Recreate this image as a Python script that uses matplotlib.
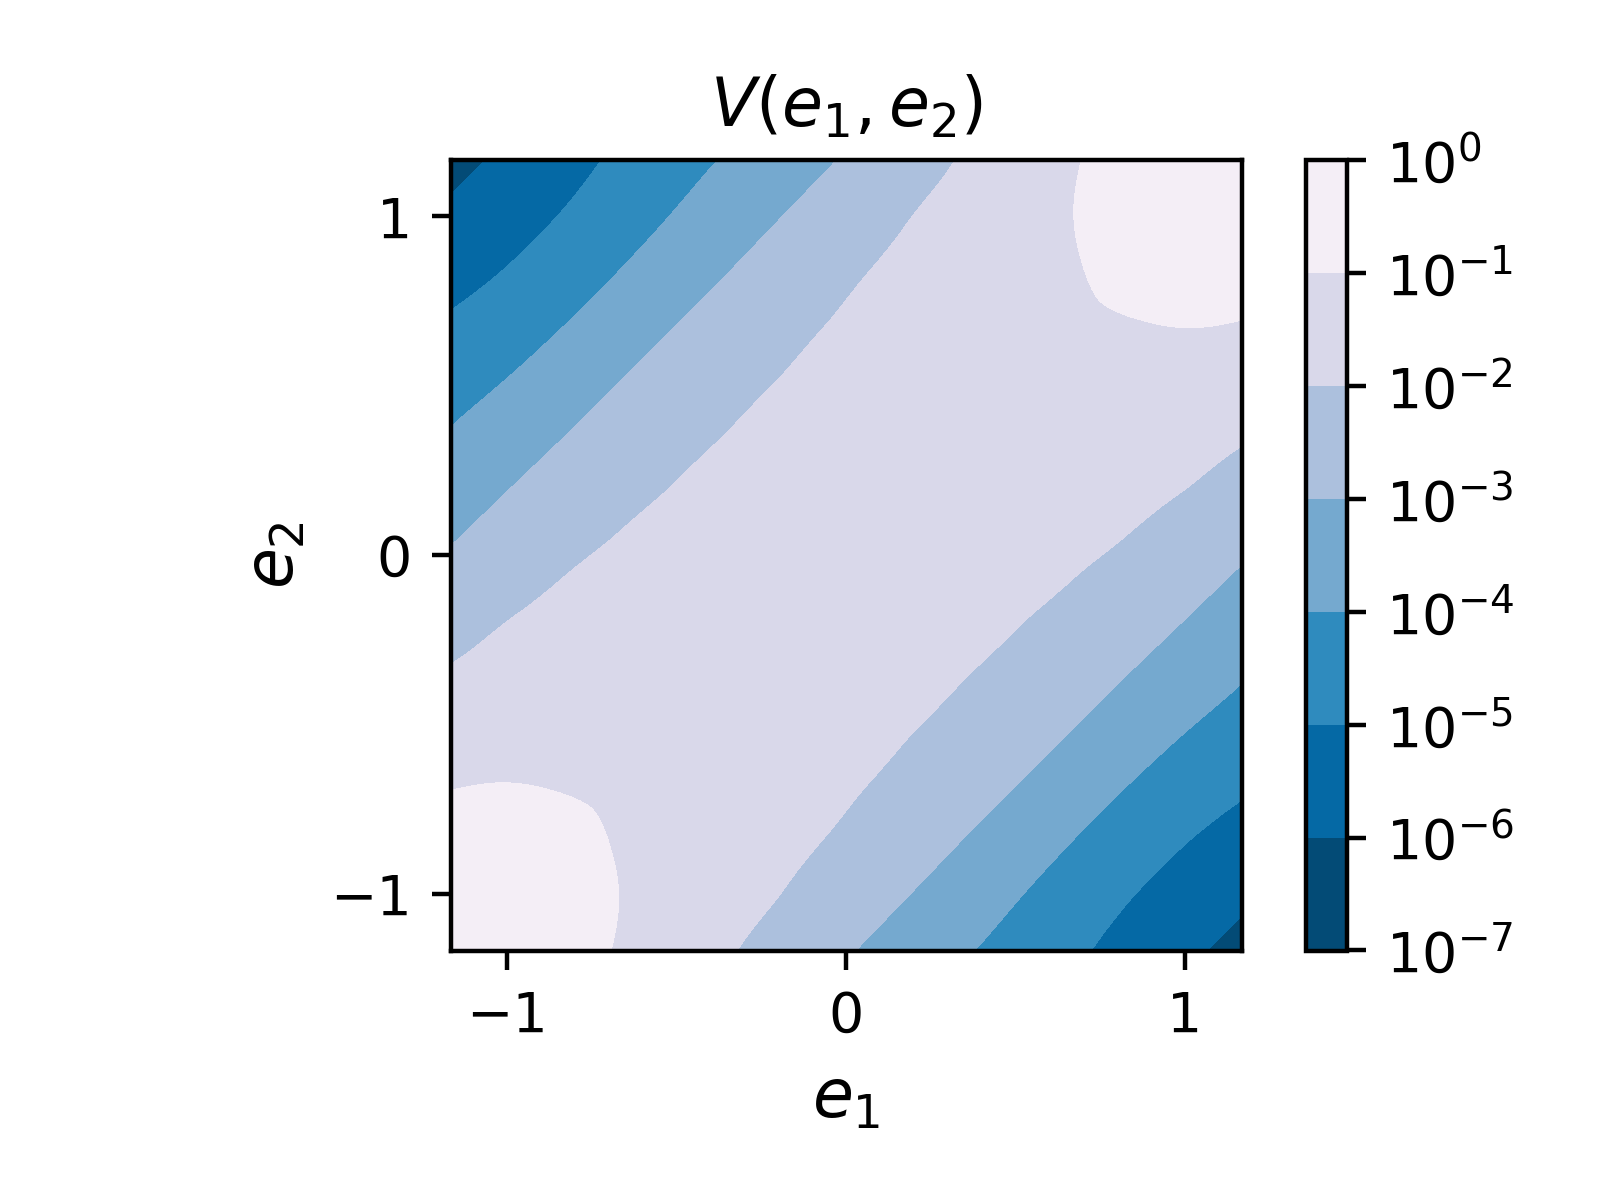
import numpy as np
import matplotlib
matplotlib.use('Agg')
import matplotlib.pyplot as plt
import matplotlib.tri as mtri
from matplotlib import ticker

# grid of e1 / e2 values (same for both axes)
e_vals = [-7/6, -1, -5/6, -2/3, -1/2, -1/3, -1/6, 0, 1/6, 1/3, 1/2, 2/3, 5/6, 1, 7/6]

# log10 V, rows = e2 (bottom -> top), columns = e1 (left -> right)
log10_v = [
    [-0.23, -0.47, -0.76, -1.06, -1.52, -1.97, -2.41, -2.92, -3.38, -3.87, -4.33, -4.82, -5.35, -5.82, -6.28],
    [-0.47, -0.58, -0.78, -1.01, -1.42, -1.75, -2.06, -2.48, -2.94, -3.41, -3.93, -4.43, -4.94, -5.40, -5.82],
    [-0.76, -0.78, -0.87, -1.05, -1.30, -1.58, -1.85, -2.11, -2.51, -2.96, -3.44, -3.97, -4.47, -4.94, -5.35],
    [-1.06, -1.01, -1.05, -1.11, -1.26, -1.46, -1.69, -1.91, -2.15, -2.53, -2.96, -3.45, -3.97, -4.43, -4.82],
    [-1.52, -1.42, -1.30, -1.26, -1.30, -1.41, -1.57, -1.75, -1.94, -2.16, -2.53, -2.96, -3.44, -3.93, -4.33],
    [-1.97, -1.75, -1.58, -1.46, -1.41, -1.43, -1.52, -1.64, -1.78, -1.95, -2.16, -2.53, -2.96, -3.41, -3.87],
    [-2.41, -2.06, -1.85, -1.69, -1.57, -1.52, -1.51, -1.57, -1.66, -1.78, -1.94, -2.15, -2.51, -2.94, -3.38],
    [-2.92, -2.48, -2.11, -1.91, -1.75, -1.64, -1.57, -1.54, -1.57, -1.64, -1.75, -1.91, -2.11, -2.48, -2.92],
    [-3.38, -2.94, -2.51, -2.15, -1.94, -1.78, -1.66, -1.57, -1.51, -1.52, -1.57, -1.69, -1.85, -2.06, -2.41],
    [-3.87, -3.41, -2.96, -2.53, -2.16, -1.95, -1.78, -1.64, -1.52, -1.43, -1.41, -1.46, -1.58, -1.75, -1.97],
    [-4.33, -3.93, -3.44, -2.96, -2.53, -2.16, -1.94, -1.75, -1.57, -1.41, -1.30, -1.26, -1.30, -1.42, -1.52],
    [-4.82, -4.43, -3.97, -3.45, -2.96, -2.53, -2.15, -1.91, -1.69, -1.46, -1.26, -1.11, -1.05, -1.01, -1.06],
    [-5.35, -4.94, -4.47, -3.97, -3.44, -2.96, -2.51, -2.11, -1.85, -1.58, -1.30, -1.05, -0.87, -0.78, -0.76],
    [-5.82, -5.40, -4.94, -4.43, -3.93, -3.41, -2.94, -2.48, -2.06, -1.75, -1.42, -1.01, -0.78, -0.58, -0.47],
    [-6.28, -5.82, -5.35, -4.82, -4.33, -3.87, -3.38, -2.92, -2.41, -1.97, -1.52, -1.06, -0.76, -0.47, -0.23],
]

tick_vals = [-1, 0, 1]

e = np.array(e_vals)
n = len(e)
E1, E2 = np.meshgrid(e, e)

# split every grid cell along the e1 = e2 direction
tris = []
for i in range(n - 1):
    for j in range(n - 1):
        k = i*n + j
        tris.append([k, k + 1, k + n + 1])
        tris.append([k, k + n + 1, k + n])
tri = mtri.Triangulation(E1.ravel(), E2.ravel(), tris)

# smoother contour lines (cubic refinement of the grid)
refiner = mtri.UniformTriRefiner(tri)
tri_f, z_f = refiner.refine_field(np.array(log10_v).ravel(), subdiv=3)

fig = plt.figure(figsize=(4, 3), dpi=400)
ax = fig.add_axes([451/1600, 1 - 950.5/1200, 790.5/1600, 790.5/1200])
cax = fig.add_axes([1306/1600, 1 - 950.5/1200, 41/1600, 790.5/1200])

cs = ax.tricontourf(tri_f, 10**z_f, locator=ticker.LogLocator(), cmap='PuBu_r')
fig.colorbar(cs, cax=cax)

ax.set_xlim(e[0], e[-1])
ax.set_ylim(e[0], e[-1])
ax.set_xticks(tick_vals)
ax.set_yticks(tick_vals)
ax.set_xlabel('$e_1$', fontsize=12)
ax.set_ylabel('$e_2$', fontsize=12)
ax.set_title('$V(e_1, e_2)$', fontsize=12)

fig.savefig('out.png', dpi=400)
